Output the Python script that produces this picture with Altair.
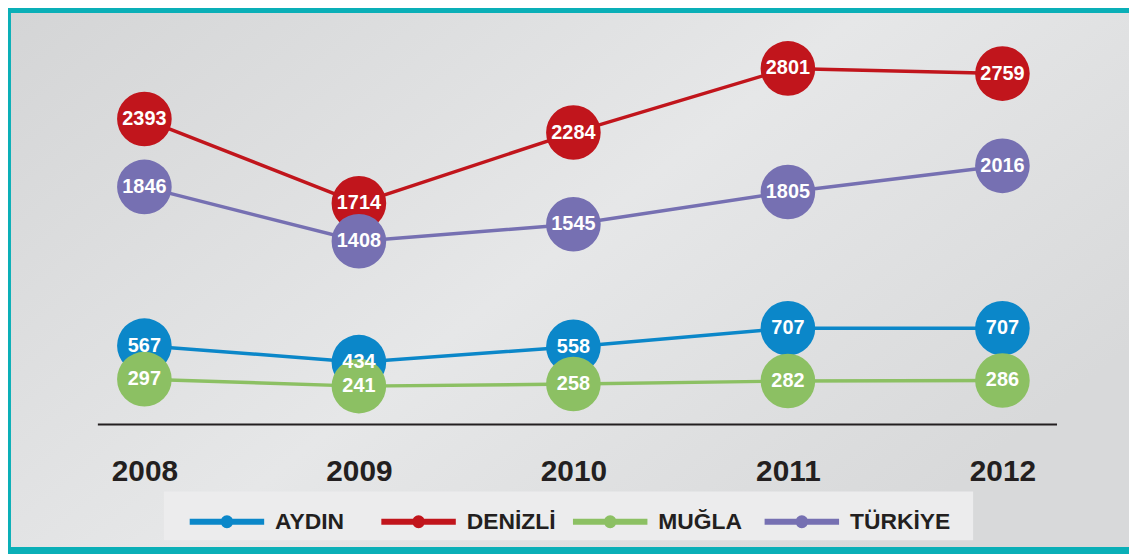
import altair as alt
import pandas as pd

years = ["2008", "2009", "2010", "2011", "2012"]
series_names = ["AYDIN", "DENİZLİ", "MUĞLA", "TÜRKİYE"]
series_colors = ["#0b87c9", "#c1151c", "#8cc063", "#7670b2"]
aydin = [567, 434, 558, 707, 707]
denizli = [2393, 1714, 2284, 2801, 2759]
mugla = [297, 241, 258, 282, 286]
turkiye = [1846, 1408, 1545, 1805, 2016]

rows = []
for name, vals in zip(series_names, [aydin, denizli, mugla, turkiye]):
    for yr, v in zip(years, vals):
        rows.append({"year": yr, "series": name, "value": v})
df = pd.DataFrame(rows)

FONT = "Liberation Sans"

x_enc = alt.X(
    "year:O",
    sort=years,
    scale=alt.Scale(type="point", padding=0.2357, align=0.465),
    axis=alt.Axis(
        title=None, ticks=False, tickSize=0, grid=False, zindex=2,
        domainColor="#231f20", domainWidth=2,
        labelFont=FONT, labelFontSize=30, labelFontWeight="bold",
        labelColor="#231f20", labelPadding=33, labelAngle=0,
    ),
)
y_enc = alt.Y(
    "value:Q",
    scale=alt.Scale(domain=[-64, 3096], nice=False, zero=False),
    axis=None,
)
color_enc = alt.Color(
    "series:N",
    sort=series_names,
    scale=alt.Scale(domain=series_names, range=series_colors),
    legend=alt.Legend(
        title=None, orient="none", legendX=90, legendY=453,
        direction="horizontal", columns=4, gridAlign="all",
        columnPadding=-6, padding=0,
        symbolType="M-1,0L1,0M0.093,0A0.093,0.093,0,1,1,-0.093,0A0.093,0.093,0,1,1,0.093,0",
        symbolSize=5625, symbolStrokeWidth=6,
        labelFont=FONT, labelFontSize=23, labelFontWeight="bold",
        labelColor="#231f20", labelOffset=8, labelLimit=300,
    ),
)

bg = alt.Chart(alt.Data(values=[{}])).mark_rect(
    fill=alt.Gradient(
        gradient="linear", x1=0, y1=0, x2=1, y2=0.6,
        stops=[
            alt.GradientStop(color="#d4d5d6", offset=0),
            alt.GradientStop(color="#e6e7e8", offset=0.55),
            alt.GradientStop(color="#d8d9da", offset=1),
        ],
    )
).encode(x=alt.value(-87), x2=alt.value(1060), y=alt.value(-19), y2=alt.value(519))

legend_box = alt.Chart(alt.Data(values=[{}])).mark_rect(
    fill="#ececed"
).encode(x=alt.value(67), x2=alt.value(882), y=alt.value(463), y2=alt.value(512))

lines = alt.Chart(df).mark_line(strokeWidth=3.5).encode(
    x=x_enc, y=y_enc, color=color_enc, detail="series:N"
)
points = alt.Chart(df).mark_point(filled=True, opacity=1, size=3025, shape="circle").encode(
    x=x_enc, y=y_enc, color=color_enc
)
labels = alt.Chart(df).mark_text(
    font=FONT, fontSize=20, fontWeight="bold", color="white", baseline="middle", align="center"
).encode(x=x_enc, y=y_enc, text="value:Q")

chart = alt.layer(bg, legend_box, lines, points, labels).properties(
    width=966, height=395,
    padding={"left": 90, "top": 22, "right": 73, "bottom": 129},
    autosize=alt.AutoSizeParams(type="none"),
    background="#0aafb7",
).configure_view(stroke=None)

chart.save("out.html", embed_options={"renderer": "svg", "actions": False})
